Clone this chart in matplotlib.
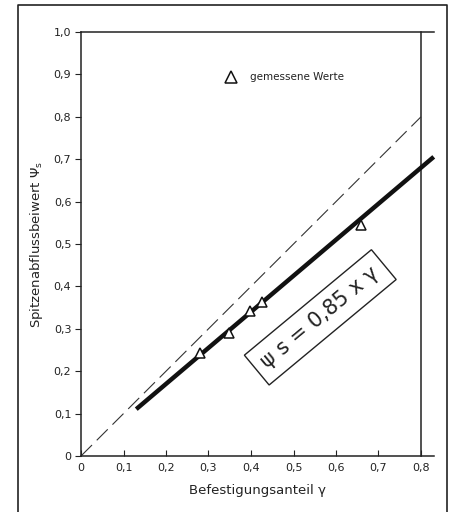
import matplotlib
matplotlib.use("Agg")
import matplotlib.pyplot as plt
from matplotlib.lines import Line2D
import numpy as np

# measured values (Befestigungsanteil, Spitzenabflussbeiwert)
x_meas = [0.28, 0.349, 0.398, 0.427, 0.658]
y_meas = [0.243, 0.289, 0.343, 0.364, 0.545]

# regression line psi_s = 0.85 * gamma
fit_x = [0.13, 0.83]
factor = 0.85
# reference line psi = gamma
ref_x = [0.0, 0.8]

xticks = [0, 0.1, 0.2, 0.3, 0.4, 0.5, 0.6, 0.7, 0.8]
xticklabels = ["0", "0,1", "0,2", "0,3", "0,4", "0,5", "0,6", "0,7", "0,8"]
yticks = [0, 0.1, 0.2, 0.3, 0.4, 0.5, 0.6, 0.7, 0.8, 0.9, 1.0]
yticklabels = ["0", "0,1", "0,2", "0,3", "0,4", "0,5", "0,6", "0,7", "0,8", "0,9", "1,0"]

fig = plt.figure(figsize=(4.54, 5.12), dpi=100)
fig.patch.set_facecolor("white")
ax = fig.add_axes([81 / 454, 56 / 512, 352.75 / 454, 424 / 512])

# outer frame
W, H = 454, 512
fx = [18 / W, 18 / W, 447 / W, 447 / W]
fy = [-0.01, 1 - 5 / H, 1 - 5 / H, -0.01]
fig.add_artist(Line2D(fx, fy, transform=fig.transFigure, color="#222222", lw=1.2))

ax.set_xlim(0, 0.83)
ax.set_ylim(0, 1.0)
ax.spines["right"].set_visible(False)
for s in ["top", "bottom", "left"]:
    ax.spines[s].set_linewidth(1.1)
    ax.spines[s].set_color("#222222")
ax.plot([0.8, 0.8], [0, 1.0], color="#222222", lw=1.1, clip_on=False)

ax.set_xticks(xticks)
ax.set_xticklabels(xticklabels)
ax.set_yticks(yticks)
ax.set_yticklabels(yticklabels)
ax.tick_params(axis="x", direction="in", length=4, pad=5, labelsize=8, colors="#222222")
ax.tick_params(axis="y", direction="out", length=4, pad=3, labelsize=8, colors="#222222")

# reference dashed line
ax.plot(ref_x, ref_x, color="#333333", lw=0.8, dashes=(14, 6))
# fitted line
ax.plot(fit_x, [factor * v for v in fit_x], color="#111111", lw=3.2, solid_capstyle="butt", clip_on=False)
# measured points
ax.plot(x_meas, y_meas, linestyle="none", marker="^", markersize=7,
        markerfacecolor="white", markeredgecolor="#111111", markeredgewidth=1.1, zorder=5)

# legend
ax.plot([0.352], [0.893], linestyle="none", marker="^", markersize=8,
        markerfacecolor="white", markeredgecolor="#111111", markeredgewidth=1.1)
ax.text(0.397, 0.893, "gemessene Werte", fontsize=7.5, va="center", ha="left", color="#222222")

# formula box
ax.text(0.563, 0.327, "ψ s = 0,85 x γ", rotation=39.7, rotation_mode="anchor",
        ha="center", va="center", fontsize=15, color="#222222",
        bbox=dict(boxstyle="square,pad=0.45", facecolor="white", edgecolor="#222222", lw=1.0))

ax.set_xlabel("Befestigungsanteil γ", fontsize=9.5, color="#222222", labelpad=8)
ax.set_ylabel("Spitzenabflussbeiwert Ψ$_\\mathrm{s}$", fontsize=9.5, color="#222222", labelpad=6)

fig.savefig("out.png", dpi=100)
